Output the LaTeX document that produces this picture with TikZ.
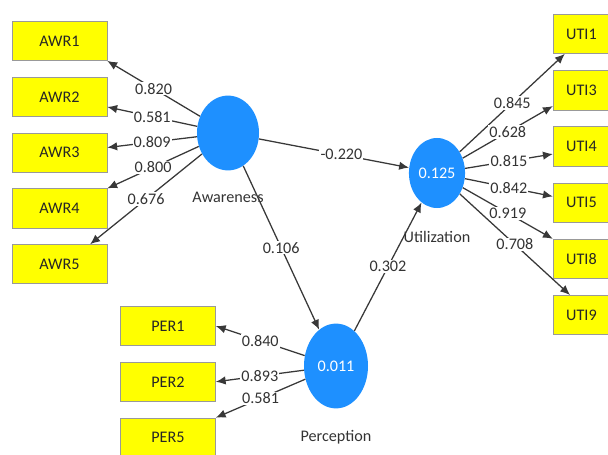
\documentclass[tikz,border=0pt]{standalone}
\usepackage{fontspec}
\setmainfont{Carlito}
\usetikzlibrary{arrows.meta,positioning,shapes.geometric}
\definecolor{latentfill}{HTML}{1E90FF}
\definecolor{itemfill}{HTML}{FFFF00}

\begin{document}
\begin{tikzpicture}[
  x=0.025cm, y=-0.025cm,
  latent/.style={ellipse, fill=latentfill, text=white, inner sep=1pt, font=\fontsize{11.5}{13}\selectfont},
  item/.style={draw=black!40, fill=itemfill, minimum width=2.375cm, minimum height=0.98cm, font=\fontsize{11.5}{13}\selectfont, text=black!85},
  lvname/.style={font=\fontsize{11.5}{13}\selectfont, text=black!80},
  coef/.style={fill=white, inner sep=0.8pt, font=\fontsize{11.5}{13}\selectfont, text=black!80},
  arr/.style={-{Latex[length=7pt, width=6pt]}, line width=0.9pt, black!78}
]
  \clip (0,0) rectangle (608,455);

  \node[latent, minimum width=1.55cm, minimum height=1.87cm] (aw) at (228,133) {};
  \node[latent, minimum width=1.35cm, minimum height=1.75cm] (ut) at (437,173) {0.125};
  \node[latent, minimum width=1.6cm, minimum height=2.12cm] (pe) at (336,366) {0.011};
  \node[lvname, below=0.42cm of aw] (awname) {Awareness};
  \node[lvname, below=0.46cm of ut] (utname) {Utilization};
  \node[lvname, below=0.42cm of pe] (pename) {Perception};

  \node[item] (awr1) at (59.5,41) {AWR1};
  \node[item, below=0.4cm of awr1] (awr2) {AWR2};
  \node[item, below=0.4cm of awr2] (awr3) {AWR3};
  \node[item, below=0.4cm of awr3] (awr4) {AWR4};
  \node[item, below=0.4cm of awr4] (awr5) {AWR5};

  \node[item, minimum width=1.42cm] (uti1) at (581.5,34) {UTI1};
  \node[item, minimum width=1.42cm, below=0.41cm of uti1] (uti3) {UTI3};
  \node[item, minimum width=1.42cm, below=0.41cm of uti3] (uti4) {UTI4};
  \node[item, minimum width=1.42cm, below=0.41cm of uti4] (uti5) {UTI5};
  \node[item, minimum width=1.42cm, below=0.41cm of uti5] (uti8) {UTI8};
  \node[item, minimum width=1.42cm, below=0.41cm of uti8] (uti9) {UTI9};

  \node[item] (per1) at (168,326) {PER1};
  \node[item, below=0.4cm of per1] (per2) {PER2};
  \node[item, below=0.4cm of per2] (per5) {PER5};

  % structural paths
  \draw[arr] (aw) -- node[coef, pos=0.55] {-0.220} (ut);
  \draw[arr] (aw) -- node[coef] {0.106} (pe);
  \draw[arr] (pe) -- node[coef] {0.302} (ut);

  % outer loadings
  \draw[arr] (aw) -- node[coef] {0.820} (awr1.south east);
  \draw[arr] (aw) -- node[coef] {0.581} (awr2.348);
  \draw[arr] (aw) -- node[coef] {0.809} (awr3.6);
  \draw[arr] (aw) -- node[coef] {0.800} (awr4.north east);
  \draw[arr] (aw) -- node[coef] {0.676} (awr5.33);

  \draw[arr] (ut) -- node[coef] {0.845} (uti1.230);
  \draw[arr] (ut) -- node[coef] {0.628} (uti3.209);
  \draw[arr] (ut) -- node[coef] {0.815} (uti4.195);
  \draw[arr] (ut) -- node[coef] {0.842} (uti5.168);
  \draw[arr] (ut) -- node[coef] {0.919} (uti8.north west);
  \draw[arr] (ut) -- node[coef] {0.708} (uti9.120);

  \draw[arr] (pe) -- node[coef] {0.840} (per1.east);
  \draw[arr] (pe) -- node[coef] {0.893} (per2.east);
  \draw[arr] (pe) -- node[coef] {0.581} (per5.north east);
\end{tikzpicture}
\end{document}
